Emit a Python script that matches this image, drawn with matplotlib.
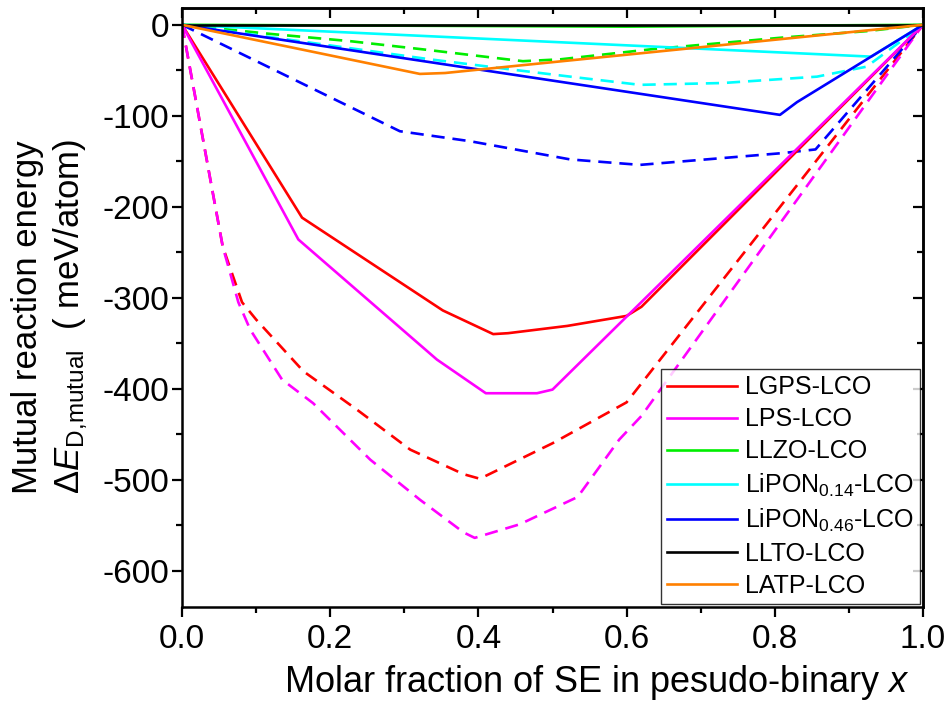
import matplotlib
matplotlib.use("Agg")
import matplotlib.pyplot as plt
from matplotlib.ticker import MultipleLocator
import numpy as np

plt.rcParams['font.family'] = ['Liberation Sans', 'DejaVu Sans']
plt.rcParams['mathtext.fontset'] = 'custom'
plt.rcParams['mathtext.rm'] = 'Liberation Sans'
plt.rcParams['mathtext.it'] = 'Liberation Sans:italic'

# solid lines (x, energy in meV/atom)
lgps_x = [0, 0.162, 0.352, 0.42, 0.44, 0.52, 0.6, 0.62, 1.0]
lgps_y = [0, -212, -314, -340, -339, -331, -320, -310, 0]
lps_x = [0, 0.157, 0.344, 0.41, 0.479, 0.5, 1.0]
lps_y = [0, -236, -368, -405, -405, -401, 0]
llzo_x = [0, 0.6, 1.0]
llzo_y = [0, -2, 0]
lipon14_x = [0, 0.93, 1.0]
lipon14_y = [0, -35, 0]
lipon46_x = [0, 0.807, 0.83, 1.0]
lipon46_y = [0, -99, -85, 0]
llto_x = [0, 1.0]
llto_y = [0, 0]
latp_x = [0, 0.321, 0.355, 1.0]
latp_y = [0, -54, -53, 0]

# dashed lines
lgps_dx = [0, 0.04, 0.055, 0.081, 0.10, 0.164, 0.236, 0.308, 0.38, 0.402, 0.5, 0.6, 1.0]
lgps_dy = [0, -178, -244, -305, -324, -381, -423, -467, -494, -499, -460, -415, 0]
lps_dx = [0, 0.04, 0.055, 0.076, 0.092, 0.135, 0.177, 0.254, 0.321, 0.38, 0.395, 0.456, 0.534, 0.59, 0.62, 1.0]
lps_dy = [0, -178, -244, -305, -335, -390, -416, -478, -522, -558, -564, -549, -519, -456, -430, 0]
llzo_dx = [0, 0.119, 0.227, 0.325, 0.46, 0.51, 0.632, 0.811, 0.924, 1.0]
llzo_dy = [0, -10, -18, -27, -40, -38, -27, -14, -7, 0]
lipon14_dx = [0, 0.335, 0.443, 0.524, 0.618, 0.73, 0.857, 0.924, 1.0]
lipon14_dy = [0, -38, -49, -57, -66, -64, -57, -46, 0]
lipon46_dx = [0, 0.294, 0.389, 0.524, 0.618, 0.811, 0.855, 1.0]
lipon46_dy = [0, -117, -128, -148, -154, -141, -137, 0]

labels = ["LGPS-LCO", "LPS-LCO", "LLZO-LCO", "LiPON$_{0.14}$-LCO",
          "LiPON$_{0.46}$-LCO", "LLTO-LCO", "LATP-LCO"]
colors = ["#ff0000", "#ff00ff", "#00ee00", "#00ffff", "#0000ff", "#000000", "#ff8000"]

fig = plt.figure(figsize=(9.53, 7.02), dpi=100)
ax = fig.add_axes([0.191, 0.1353, 0.7775, 0.854])

lw = 1.9
dash = (0, (5, 3))
ax.plot(lgps_dx, lgps_dy, color=colors[0], lw=lw, ls=dash)
ax.plot(lps_dx, lps_dy, color=colors[1], lw=lw, ls=dash)
ax.plot(llzo_dx, llzo_dy, color=colors[2], lw=lw, ls=dash)
ax.plot(lipon14_dx, lipon14_dy, color=colors[3], lw=lw, ls=dash)
ax.plot(lipon46_dx, lipon46_dy, color=colors[4], lw=lw, ls=dash)

solid = [(lgps_x, lgps_y), (lps_x, lps_y), (llzo_x, llzo_y), (lipon14_x, lipon14_y),
         (lipon46_x, lipon46_y), (llto_x, llto_y), (latp_x, latp_y)]
for (xs, ys), c, lab in zip(solid, colors, labels):
    ax.plot(xs, ys, color=c, lw=lw, label=lab)

ax.set_xlim(0, 1.0)
ax.set_ylim(-640, 19)
ax.xaxis.set_minor_locator(MultipleLocator(0.1))
ax.yaxis.set_minor_locator(MultipleLocator(50))
ax.set_xticks([0, 0.2, 0.4, 0.6, 0.8, 1.0])
ax.set_xticklabels(["0.0", "0.2", "0.4", "0.6", "0.8", "1.0"], fontsize=24)
ax.set_yticks(np.arange(-600, 1, 100))
ax.set_yticklabels([str(v) for v in np.arange(-600, 1, 100)], fontsize=24)

for side in ax.spines.values():
    side.set_linewidth(1.8)
ax.tick_params(which='both', width=1.6, top=False, right=False, direction='out')
ax.tick_params(axis='x', which='major', length=7.2, pad=5)
ax.tick_params(axis='y', which='major', length=7.2, pad=2)
ax.tick_params(which='minor', length=4)

ax_top = ax.secondary_xaxis('top')
ax_top.set_xticks([0, 0.2, 0.4, 0.6, 0.8, 1.0])
ax_top.xaxis.set_minor_locator(MultipleLocator(0.1))
ax_top.tick_params(which='both', direction='in', width=1.6, labeltop=False)
ax_top.tick_params(which='major', length=7.2)
ax_top.tick_params(which='minor', length=4)
ax_right = ax.secondary_yaxis('right')
ax_right.set_yticks(np.arange(-600, 1, 100))
ax_right.yaxis.set_minor_locator(MultipleLocator(50))
ax_right.tick_params(which='both', direction='in', width=1.6, labelright=False)
ax_right.tick_params(which='major', length=7.2)
ax_right.tick_params(which='minor', length=4)
ax_top.spines['top'].set_linewidth(1.8)
ax_right.spines['right'].set_linewidth(1.8)

ax.set_xlabel("Molar fraction of SE in pesudo-binary $\\it{x}$", fontsize=26)
ax.xaxis.set_label_coords(0.56, -0.093, transform=ax.transAxes)
ax.xaxis.label.set_va('top')
fig.text(0.029, (702 - 494) / 702, "Mutual reaction energy", rotation=90, fontsize=25,
         ha='center', va='bottom')
fig.text(0.074, (702 - 494) / 702, "$\\Delta\\it{E}$$_{\\rm D{,}mutual}$  ( meV/atom)", rotation=90,
         fontsize=25, ha='center', va='bottom')

leg = ax.legend(loc='lower right', fontsize=18, frameon=True, fancybox=False,
                edgecolor='black', handlelength=2.8, handletextpad=0.3,
                labelspacing=0.32, borderaxespad=0.12, borderpad=0.25)
leg.get_frame().set_linewidth(1.0)

fig.savefig("out.png", dpi=100)
